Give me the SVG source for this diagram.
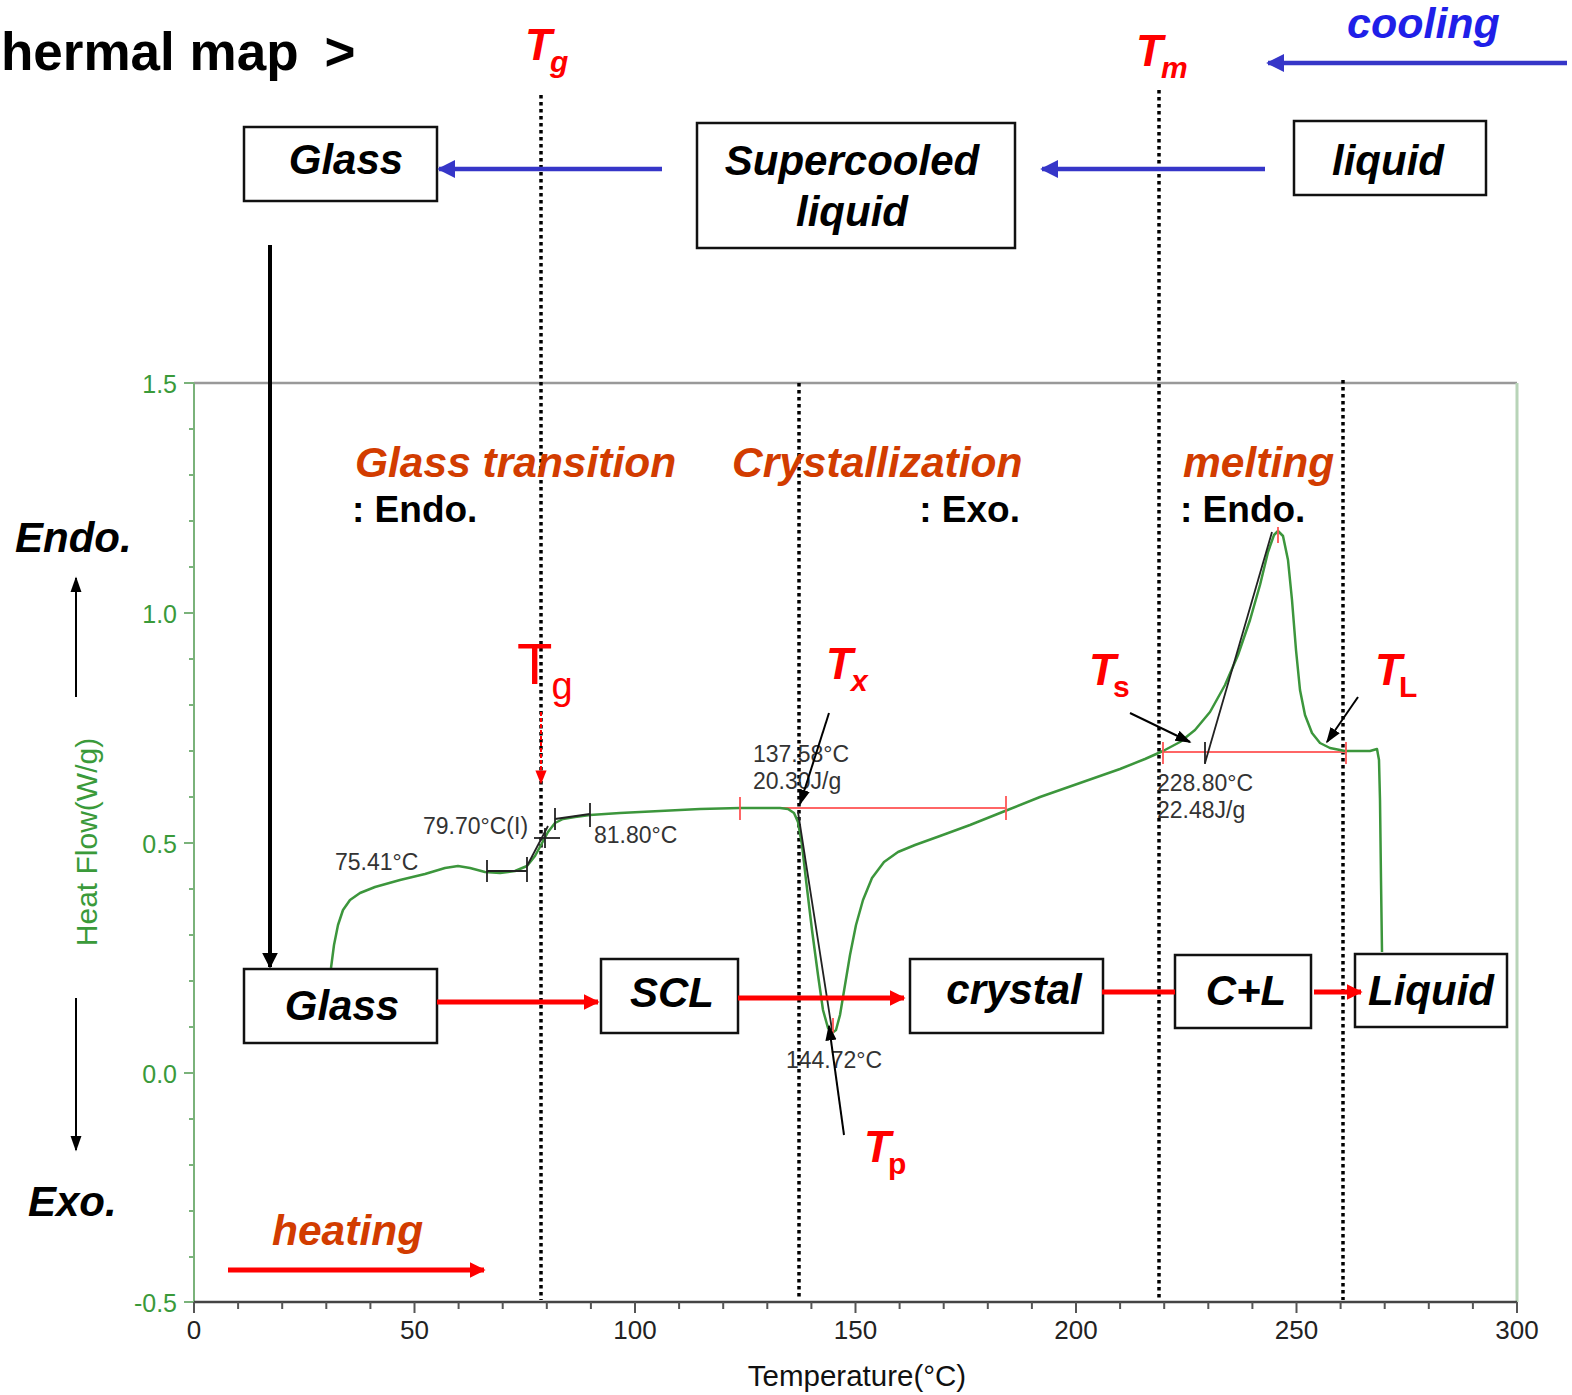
<svg xmlns="http://www.w3.org/2000/svg" width="1572" height="1395" viewBox="0 0 1572 1395">
<style>
text{font-family:"Liberation Sans",Arial,sans-serif}
.bi{font-weight:bold;font-style:italic}
.b{font-weight:bold}
.box{fill:#fff;stroke:#111;stroke-width:2.5}
.bt{font-weight:bold;font-style:italic;font-size:42px;fill:#000;text-anchor:middle}
.dot{stroke:#000;stroke-width:3.5;stroke-dasharray:3.5 3.5;fill:none}
.phase{font-weight:bold;font-style:italic;font-size:42.5px;fill:#d23c00}
.sub{font-weight:bold;font-size:37px;fill:#000}
.red{fill:#ff0000}
.ann{font-size:23px;fill:#333}
.yl{font-size:25px;fill:#3a9a3a;text-anchor:end}
.xl{font-size:26px;fill:#222;text-anchor:middle}
.blue{stroke:#3636c8;stroke-width:4.5;fill:none}
.redar{stroke:#ff0000;stroke-width:5;fill:none}
.thin{stroke:#000;stroke-width:2;fill:none}
</style>
<defs>
<marker id="mb" viewBox="0 0 10 10" refX="9" refY="5" markerWidth="4" markerHeight="4" orient="auto"><path d="M0,0L10,5L0,10z" fill="#3636c8"/></marker>
<marker id="mr" viewBox="0 0 10 10" refX="9" refY="5" markerWidth="3.2" markerHeight="3.2" orient="auto"><path d="M0,0L10,5L0,10z" fill="#ff0000"/></marker>
<marker id="mk" viewBox="0 0 10 10" refX="9" refY="5" markerWidth="4" markerHeight="4" orient="auto"><path d="M0,0L10,5L0,10z" fill="#000"/></marker>
<marker id="mk2" viewBox="0 0 10 10" refX="9" refY="5" markerWidth="8" markerHeight="8" orient="auto"><path d="M0,1.5L10,5L0,8.5z" fill="#000"/></marker>
<marker id="mrs" viewBox="0 0 10 10" refX="9" refY="5" markerWidth="7" markerHeight="7" orient="auto"><path d="M0,1L10,5L0,9z" fill="#ff0000"/></marker>
</defs>

<!-- title -->
<text x="1" y="70" class="b" font-size="53">hermal map<tspan dx="26">&gt;</tspan></text>

<!-- plot frame -->
<g id="plot">
<line x1="194" y1="383" x2="1517" y2="383" stroke="#999" stroke-width="2.5"/>
<line x1="1517" y1="383" x2="1517" y2="1302" stroke="#b8d4b8" stroke-width="3"/>
<line x1="194" y1="383" x2="194" y2="1302" stroke="#7ab27a" stroke-width="2"/>
<line x1="194" y1="1302" x2="1517" y2="1302" stroke="#444" stroke-width="2.5"/>
<g stroke="#7ab27a" stroke-width="2">
<line x1="184" y1="383" x2="194" y2="383"/><line x1="184" y1="613" x2="194" y2="613"/><line x1="184" y1="843" x2="194" y2="843"/><line x1="184" y1="1073" x2="194" y2="1073"/><line x1="184" y1="1302" x2="194" y2="1302"/>
<line x1="189" y1="429" x2="194" y2="429"/><line x1="189" y1="475" x2="194" y2="475"/><line x1="189" y1="521" x2="194" y2="521"/><line x1="189" y1="567" x2="194" y2="567"/>
<line x1="189" y1="659" x2="194" y2="659"/><line x1="189" y1="705" x2="194" y2="705"/><line x1="189" y1="751" x2="194" y2="751"/><line x1="189" y1="797" x2="194" y2="797"/>
<line x1="189" y1="889" x2="194" y2="889"/><line x1="189" y1="935" x2="194" y2="935"/><line x1="189" y1="981" x2="194" y2="981"/><line x1="189" y1="1027" x2="194" y2="1027"/>
<line x1="189" y1="1119" x2="194" y2="1119"/><line x1="189" y1="1165" x2="194" y2="1165"/><line x1="189" y1="1211" x2="194" y2="1211"/><line x1="189" y1="1257" x2="194" y2="1257"/>
</g>
<g stroke="#555" stroke-width="2">
<line x1="194" y1="1302" x2="194" y2="1313"/><line x1="414.5" y1="1302" x2="414.5" y2="1313"/><line x1="635" y1="1302" x2="635" y2="1313"/><line x1="855.5" y1="1302" x2="855.5" y2="1313"/><line x1="1076" y1="1302" x2="1076" y2="1313"/><line x1="1296.5" y1="1302" x2="1296.5" y2="1313"/><line x1="1517" y1="1302" x2="1517" y2="1313"/>
<line x1="238.1" y1="1302" x2="238.1" y2="1309"/><line x1="282.2" y1="1302" x2="282.2" y2="1309"/><line x1="326.3" y1="1302" x2="326.3" y2="1309"/><line x1="370.4" y1="1302" x2="370.4" y2="1309"/>
<line x1="458.6" y1="1302" x2="458.6" y2="1309"/><line x1="502.7" y1="1302" x2="502.7" y2="1309"/><line x1="546.8" y1="1302" x2="546.8" y2="1309"/><line x1="590.9" y1="1302" x2="590.9" y2="1309"/>
<line x1="679.1" y1="1302" x2="679.1" y2="1309"/><line x1="723.2" y1="1302" x2="723.2" y2="1309"/><line x1="767.3" y1="1302" x2="767.3" y2="1309"/><line x1="811.4" y1="1302" x2="811.4" y2="1309"/>
<line x1="899.6" y1="1302" x2="899.6" y2="1309"/><line x1="943.7" y1="1302" x2="943.7" y2="1309"/><line x1="987.8" y1="1302" x2="987.8" y2="1309"/><line x1="1031.9" y1="1302" x2="1031.9" y2="1309"/>
<line x1="1120.1" y1="1302" x2="1120.1" y2="1309"/><line x1="1164.2" y1="1302" x2="1164.2" y2="1309"/><line x1="1208.3" y1="1302" x2="1208.3" y2="1309"/><line x1="1252.4" y1="1302" x2="1252.4" y2="1309"/>
<line x1="1340.6" y1="1302" x2="1340.6" y2="1309"/><line x1="1384.7" y1="1302" x2="1384.7" y2="1309"/><line x1="1428.8" y1="1302" x2="1428.8" y2="1309"/><line x1="1472.9" y1="1302" x2="1472.9" y2="1309"/>
</g>
<text x="177" y="393" class="yl">1.5</text>
<text x="177" y="623" class="yl">1.0</text>
<text x="177" y="853" class="yl">0.5</text>
<text x="177" y="1083" class="yl">0.0</text>
<text x="177" y="1312" class="yl">-0.5</text>
<text x="194" y="1339" class="xl">0</text>
<text x="414.5" y="1339" class="xl">50</text>
<text x="635" y="1339" class="xl">100</text>
<text x="855.5" y="1339" class="xl">150</text>
<text x="1076" y="1339" class="xl">200</text>
<text x="1296.5" y="1339" class="xl">250</text>
<text x="1517" y="1339" class="xl">300</text>
<text x="857" y="1386" font-size="29.5" fill="#111" text-anchor="middle">Temperature(°C)</text>
<text transform="translate(97,842) rotate(-90)" font-size="30" fill="#3a9a3a" text-anchor="middle">Heat Flow(W/g)</text>
</g>

<!-- dotted guide lines -->
<g id="guides">
<line x1="541" y1="95" x2="541" y2="1300" class="dot"/>
<line x1="799" y1="383" x2="799" y2="1300" class="dot"/>
<line x1="1159" y1="90" x2="1159" y2="1300" class="dot"/>
<line x1="1343" y1="380" x2="1343" y2="1300" class="dot"/>
</g>

<!-- DSC curve -->
<g id="curve">
<line x1="740" y1="808" x2="1005" y2="808" stroke="#ff6666" stroke-width="2"/>
<line x1="1163" y1="752" x2="1347" y2="752" stroke="#ff6666" stroke-width="2"/>
<polyline fill="none" stroke="#3c963c" stroke-width="2.5" stroke-linejoin="round" points="331,968 334,945 338,925 343,910 350,900 360,893 375,887 400,880 425,874 445,868 458,866 470,868 485,872 500,873 515,871 527,866 535,856 541,845 548,832 555,823 563,819 575,817 590,815 620,813 660,811 700,809 740,808 780,808 788,809 794,813 798,822 802,845 806,880 812,930 818,975 823,1010 828,1028 832,1033 836,1030 840,1015 845,985 850,955 856,925 863,900 872,878 884,862 898,852 915,845 940,836 970,825 1005,811 1040,797 1080,783 1120,769 1145,759 1163,751 1180,742 1195,730 1210,712 1225,685 1238,655 1250,620 1260,585 1268,552 1274,535 1278,531 1283,536 1288,560 1292,600 1296,650 1300,690 1305,715 1312,733 1320,743 1330,748 1345,751 1370,751 1377,749 1379,760 1380,800 1381,880 1382,952"/>
<g stroke="#222" stroke-width="1.8" fill="none">
<line x1="487" y1="860" x2="487" y2="882"/>
<line x1="527" y1="857" x2="527" y2="882"/>
<line x1="487" y1="871" x2="527" y2="871"/>
<line x1="527" y1="866" x2="548" y2="826"/>
<line x1="534" y1="838" x2="560" y2="838"/>
<line x1="545" y1="828" x2="545" y2="848"/>
<line x1="555" y1="808" x2="555" y2="830"/>
<line x1="590" y1="803" x2="590" y2="827"/>
<line x1="555" y1="819" x2="590" y2="814"/>
<line x1="798" y1="812" x2="832" y2="1030"/>
<line x1="1205" y1="763" x2="1272" y2="532"/>
<line x1="1205" y1="742" x2="1205" y2="764"/>
</g>
<g stroke="#ff5555" stroke-width="1.8">
<line x1="740" y1="797" x2="740" y2="820"/>
<line x1="1006" y1="796" x2="1006" y2="820"/>
<line x1="833" y1="1018" x2="833" y2="1033"/>
<line x1="1163" y1="742" x2="1163" y2="764"/>
<line x1="1346" y1="742" x2="1346" y2="764"/>
<line x1="1278" y1="527" x2="1278" y2="543"/>
</g>
<text x="335" y="870" class="ann">75.41°C</text>
<text x="423" y="834" class="ann">79.70°C(I)</text>
<text x="594" y="843" class="ann">81.80°C</text>
<text x="753" y="762" class="ann">137.58°C</text>
<text x="753" y="789" class="ann">20.30J/g</text>
<text x="786" y="1068" class="ann">144.72°C</text>
<text x="1157" y="791" class="ann">228.80°C</text>
<text x="1157" y="818" class="ann">22.48J/g</text>
</g>

<!-- temperature labels -->
<g id="labels">
<text x="525" y="60" class="bi red" font-size="44">T<tspan dx="-2" dy="12" font-size="30">g</tspan></text>
<text x="1136" y="66" class="bi red" font-size="44">T<tspan dx="-2" dy="12" font-size="30">m</tspan></text>
<text x="1347" y="38" class="bi" font-size="43" fill="#1f1fe8">cooling</text>
<text x="517" y="684" class="red" font-size="58">T<tspan dx="-1" dy="15" font-size="38">g</tspan></text>
<text x="826" y="679" class="bi red" font-size="44">T<tspan dx="-2" dy="12" font-size="30">x</tspan></text>
<text x="1089" y="685" class="bi red" font-size="44">T<tspan dx="-3" dy="12" font-size="30" font-style="normal">s</tspan></text>
<text x="1375" y="685" class="bi red" font-size="44">T<tspan dx="-3" dy="12" font-size="30" font-style="normal">L</tspan></text>
<text x="864" y="1162" class="bi red" font-size="44">T<tspan dx="-3" dy="12" font-size="30" font-style="normal">p</tspan></text>
<text x="355" y="477" class="phase">Glass transition</text>
<text x="352" y="522" class="sub">: Endo.</text>
<text x="732" y="477" class="phase">Crystallization</text>
<text x="1020" y="522" class="sub" text-anchor="end">: Exo.</text>
<text x="1183" y="477" class="phase">melting</text>
<text x="1180" y="522" class="sub">: Endo.</text>
<text x="15" y="552" class="bi" font-size="42">Endo.</text>
<text x="28" y="1216" class="bi" font-size="42">Exo.</text>
<text x="272" y="1245" class="phase">heating</text>
</g>

<!-- nodes -->
<g id="node-glass-top"><rect x="244" y="127" width="193" height="74" class="box"/><text x="346" y="174" class="bt">Glass</text></g>
<g id="node-scl-top"><rect x="697" y="123" width="318" height="125" class="box"/><text x="852" y="175" class="bt">Supercooled</text><text x="852" y="226" class="bt">liquid</text></g>
<g id="node-liquid-top"><rect x="1294" y="121" width="192" height="74" class="box"/><text x="1388" y="175" class="bt">liquid</text></g>
<g id="node-glass"><rect x="244" y="969" width="193" height="74" class="box"/><text x="342" y="1020" class="bt">Glass</text></g>
<g id="node-scl"><rect x="601" y="959" width="137" height="74" class="box"/><text x="672" y="1007" class="bt">SCL</text></g>
<g id="node-crystal"><rect x="910" y="959" width="193" height="74" class="box"/><text x="1014" y="1004" class="bt">crystal</text></g>
<g id="node-cl"><rect x="1175" y="955" width="136" height="73" class="box"/><text x="1246" y="1005" class="bt">C+L</text></g>
<g id="node-liquid"><rect x="1355" y="954" width="152" height="73" class="box"/><text x="1431" y="1005" class="bt">Liquid</text></g>

<!-- connectors -->
<g id="connectors">
<line x1="1567" y1="63" x2="1268" y2="63" class="blue" marker-end="url(#mb)"/>
<line x1="662" y1="169" x2="439" y2="169" class="blue" marker-end="url(#mb)"/>
<line x1="1265" y1="169" x2="1042" y2="169" class="blue" marker-end="url(#mb)"/>
<line x1="270" y1="245" x2="270" y2="967" stroke="#000" stroke-width="4" marker-end="url(#mk)"/>
<line x1="437" y1="1002" x2="598" y2="1002" class="redar" marker-end="url(#mr)"/>
<line x1="738" y1="998" x2="904" y2="998" class="redar" marker-end="url(#mr)"/>
<line x1="1102" y1="992" x2="1175" y2="992" class="redar"/>
<line x1="1314" y1="992" x2="1361" y2="992" class="redar" marker-end="url(#mr)"/>
<line x1="228" y1="1270" x2="484" y2="1270" class="redar" marker-end="url(#mr)"/>
<line x1="76" y1="697" x2="76" y2="578" stroke="#000" stroke-width="2" marker-end="url(#mk2)"/>
<line x1="76" y1="998" x2="76" y2="1150" stroke="#000" stroke-width="2" marker-end="url(#mk2)"/>
<line x1="541" y1="712" x2="541" y2="783" stroke="#ff0000" stroke-width="2" stroke-dasharray="4 2" marker-end="url(#mrs)"/>
<line x1="829" y1="713" x2="800" y2="804" class="thin" marker-end="url(#mk2)"/>
<line x1="844" y1="1135" x2="829" y2="1026" class="thin" marker-end="url(#mk2)"/>
<line x1="1130" y1="713" x2="1190" y2="742" class="thin" marker-end="url(#mk2)"/>
<line x1="1358" y1="697" x2="1327" y2="742" class="thin" marker-end="url(#mk2)"/>
</g>
</svg>
